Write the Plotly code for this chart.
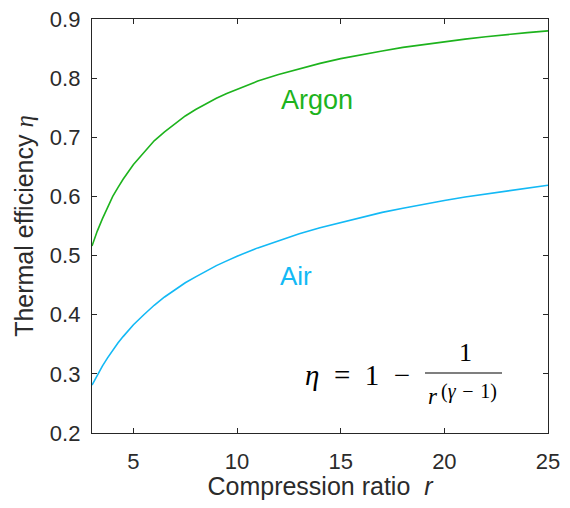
import plotly.graph_objects as go

# Data
r_vals = [3, 3.25, 3.5, 3.75, 4, 4.25, 4.5, 5, 5.5, 6, 6.5, 7, 7.5, 8, 8.5, 9, 9.5, 10,
          11, 12, 13, 14, 15, 16, 17, 18, 19, 20, 21, 22, 23, 24, 25]
argon_eta = [0.516, 0.541, 0.562, 0.582, 0.600, 0.615, 0.629, 0.654, 0.675, 0.694, 0.709, 0.723, 0.736, 0.747,
             0.757, 0.766, 0.774, 0.781,
             0.795, 0.806, 0.816, 0.825, 0.833, 0.840, 0.846, 0.852, 0.857, 0.861, 0.866, 0.870, 0.874, 0.877, 0.880]
air_eta = [0.281, 0.298, 0.313, 0.327, 0.340, 0.352, 0.363, 0.383, 0.400, 0.416, 0.430, 0.442, 0.454, 0.464,
           0.474, 0.483, 0.491, 0.499,
           0.513, 0.525, 0.537, 0.547, 0.556, 0.565, 0.573, 0.580, 0.587, 0.593, 0.599, 0.604, 0.610, 0.615, 0.619]
x_ticks = [5, 10, 15, 20, 25]
y_ticks = [0.2, 0.3, 0.4, 0.5, 0.6, 0.7, 0.8, 0.9]

GREEN = "#1db31d"
BLUE = "#13b9f5"
AX = "#262626"
TXT = "#2b2b2b"
FONT = "Liberation Sans, Arial, sans-serif"
SERIF = "Liberation Serif, DejaVu Serif, serif"

# page has an 8px body margin: figure sits at (8, 8)
OFF = 8
W, H = 570 - 2 * OFF, 508 - 2 * OFF
# plot area in page pixels
PL, PR, PT, PB = 92, 548, 19, 433

fig = go.Figure()
fig.add_trace(go.Scatter(x=r_vals, y=argon_eta, mode="lines", line=dict(color=GREEN, width=1.6),
                         showlegend=False, hoverinfo="skip"))
fig.add_trace(go.Scatter(x=r_vals, y=air_eta, mode="lines", line=dict(color=BLUE, width=1.6),
                         showlegend=False, hoverinfo="skip"))

fig.add_annotation(x=13.85, y=0.763, text="Argon", showarrow=False, font=dict(family=FONT, size=27, color=GREEN))
fig.add_annotation(x=12.85, y=0.465, text="Air", showarrow=False, font=dict(family=FONT, size=26, color=BLUE))


def px2paper(px, py):
    return (px - PL) / (PR - PL), (PB - py) / (PB - PT)


def formula_text(px, py, text, size):
    x, y = px2paper(px, py)
    fig.add_annotation(xref="paper", yref="paper", x=x, y=y, xanchor="center", yanchor="middle",
                       text=text, showarrow=False, font=dict(family=SERIF, size=size, color="black"))


formula_text(357, 375, "<i>η</i>\u2002=\u20021\u2002−", 29)
formula_text(465, 352, "1", 26)
formula_text(433, 396, "<i>r</i>", 23)
formula_text(469, 391, "(<i>γ</i>\u2004−\u20041)", 20)
lx0, ly = px2paper(425, 373)
lx1, _ = px2paper(502, 373)
fig.add_shape(type="line", xref="paper", yref="paper", x0=lx0, x1=lx1, y0=ly, y1=ly,
              line=dict(color="black", width=1.2))

axis_common = dict(showline=True, linecolor=AX, linewidth=1.3, mirror="ticks", ticks="inside", ticklen=5,
                   tickcolor=AX, tickwidth=1.3, showgrid=False, zeroline=False, automargin=False,
                   ticklabeloverflow="allow", tickfont=dict(family=FONT, size=22, color=TXT))
fig.update_xaxes(range=[3, 25], tickvals=x_ticks, ticktext=[str(v) for v in x_ticks], ticklabelstandoff=8,
                 title=dict(text="Compression ratio  <i>r</i>", font=dict(family=FONT, size=25, color=TXT), standoff=12),
                 **axis_common)
fig.update_yaxes(range=[0.2, 0.9], tickvals=y_ticks, ticktext=[f"{v:.1f}" for v in y_ticks], ticklabelstandoff=6,
                 title=dict(text="Thermal efficiency <i><span style='font-family:Liberation Serif'>η</span></i>",
                            font=dict(family=FONT, size=25, color=TXT), standoff=9),
                 **axis_common)

fig.update_layout(width=W, height=H,
                  margin=dict(l=PL - OFF, r=W - (PR - OFF), t=PT - OFF, b=H - (PB - OFF)),
                  plot_bgcolor="white", paper_bgcolor="white")

fig.write_html("out.html")
